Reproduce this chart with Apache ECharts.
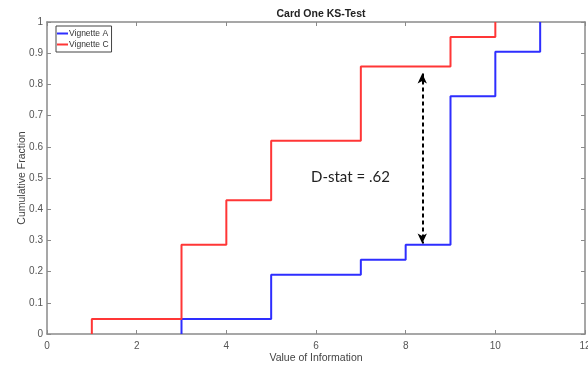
<!DOCTYPE html>
<html>
<head>
<meta charset="utf-8">
<script src="https://cdn.jsdelivr.net/npm/echarts@6/dist/echarts.min.js"></script>
<style>
	html, body { margin: 0; padding: 0; background: #fff; }
	#chart { width: 588px; height: 368px; }
</style>
</head>
<body>
<div id="chart"></div>
<script>
// step positions and cumulative fractions
var stepsA = [3, 5, 7, 8, 9, 10, 11];
var fracA = [0.048, 0.19, 0.238, 0.286, 0.762, 0.905, 1];
var stepsC = [1, 3, 4, 5, 7, 9, 10];
var fracC = [0.048, 0.286, 0.429, 0.619, 0.857, 0.952, 1];
// D-stat arrow: x position, top and bottom of the arrow
var arrowX = 8.37;
var arrowYs = [0.835, 0.29];
var dStatText = 'D-stat = .62';

function cdfData(steps, frac) {
	var data = [[steps[0], 0]];
	for (var i = 0; i < steps.length; i++) {
		data.push([steps[i], frac[i]]);
	}
	return data;
}

var axisGray = '#8a8a8a';
var labelGray = '#555';

function boxAxis(pos, max, interval) {
	return {
		type: 'value',
		position: pos,
		min: 0, max: max, interval: interval,
		axisLine: { show: true, onZero: false, lineStyle: { color: axisGray, width: 1.5 } },
		axisTick: { show: true, inside: true, length: 4, lineStyle: { color: axisGray } },
		axisLabel: { show: false },
		splitLine: { show: false }
	};
}

var chart = echarts.init(document.getElementById('chart'));
var option = {
	animation: false,
	title: [{
		text: 'Card One KS-Test',
		left: 316,
		top: 4,
		textAlign: 'center',
		textStyle: { fontFamily: 'Liberation Sans', fontSize: 10.5, fontWeight: 'bold', color: '#222' }
	}, {
		text: dStatText,
		left: 306,
		top: 165,
		textStyle: { fontFamily: 'Lato', fontSize: 15, fontWeight: 'normal', color: '#222' }
	}],
	legend: {
		orient: 'vertical',
		left: 56,
		top: 26,
		padding: [3, 3, 3, 1],
		itemGap: 2,
		itemWidth: 11,
		itemHeight: 2,
		icon: 'rect',
		borderColor: '#444',
		borderWidth: 1,
		textStyle: { fontFamily: 'Liberation Sans', fontSize: 8.5, color: '#333', padding: [0, 0, 0, -4] },
		data: ['Vignette A', 'Vignette C']
	},
	grid: { left: 47, right: 3, top: 22, bottom: 34, outerBoundsMode: 'none' },
	xAxis: [{
		type: 'value',
		min: 0, max: 12, interval: 2,
		name: 'Value of Information',
		nameLocation: 'middle',
		nameGap: 19,
		nameMoveOverlap: false,
		nameTextStyle: { fontFamily: 'Liberation Sans', fontSize: 10.5, color: '#444' },
		axisLine: { show: true, onZero: false, lineStyle: { color: axisGray, width: 1.5 } },
		axisTick: { show: true, inside: true, length: 4, lineStyle: { color: axisGray } },
		axisLabel: { fontFamily: 'Liberation Sans', fontSize: 10, color: labelGray, margin: 7 },
		splitLine: { show: false }
	}, boxAxis('top', 12, 2)],
	yAxis: [{
		type: 'value',
		min: 0, max: 1, interval: 0.1,
		name: 'Cumulative Fraction',
		nameLocation: 'middle',
		nameGap: 19,
		nameMoveOverlap: false,
		nameTextStyle: { fontFamily: 'Liberation Sans', fontSize: 10.5, color: '#444' },
		axisLine: { show: true, onZero: false, lineStyle: { color: axisGray, width: 1.5 } },
		axisTick: { show: true, inside: true, length: 4, lineStyle: { color: axisGray } },
		axisLabel: { fontFamily: 'Liberation Sans', fontSize: 10, color: labelGray, margin: 4 },
		splitLine: { show: false }
	}, boxAxis('right', 1, 0.1)],
	series: [{
		name: 'Vignette A',
		type: 'line',
		step: 'end',
		showSymbol: false,
		color: '#2e2eff',
		lineStyle: { width: 2 },
		data: cdfData(stepsA, fracA),
		markLine: {
			silent: true,
			symbol: ['arrow', 'arrow'],
			symbolSize: [7, 10],
			label: { show: false },
			lineStyle: { color: '#000', type: [4, 3], width: 2 },
			data: [[{ coord: [arrowX, arrowYs[0]] }, { coord: [arrowX, arrowYs[1]] }]]
		}
	}, {
		name: 'Vignette C',
		type: 'line',
		step: 'end',
		showSymbol: false,
		color: '#ff3636',
		lineStyle: { width: 2 },
		data: cdfData(stepsC, fracC)
	}]
};
chart.setOption(option);
</script>
</body>
</html>
